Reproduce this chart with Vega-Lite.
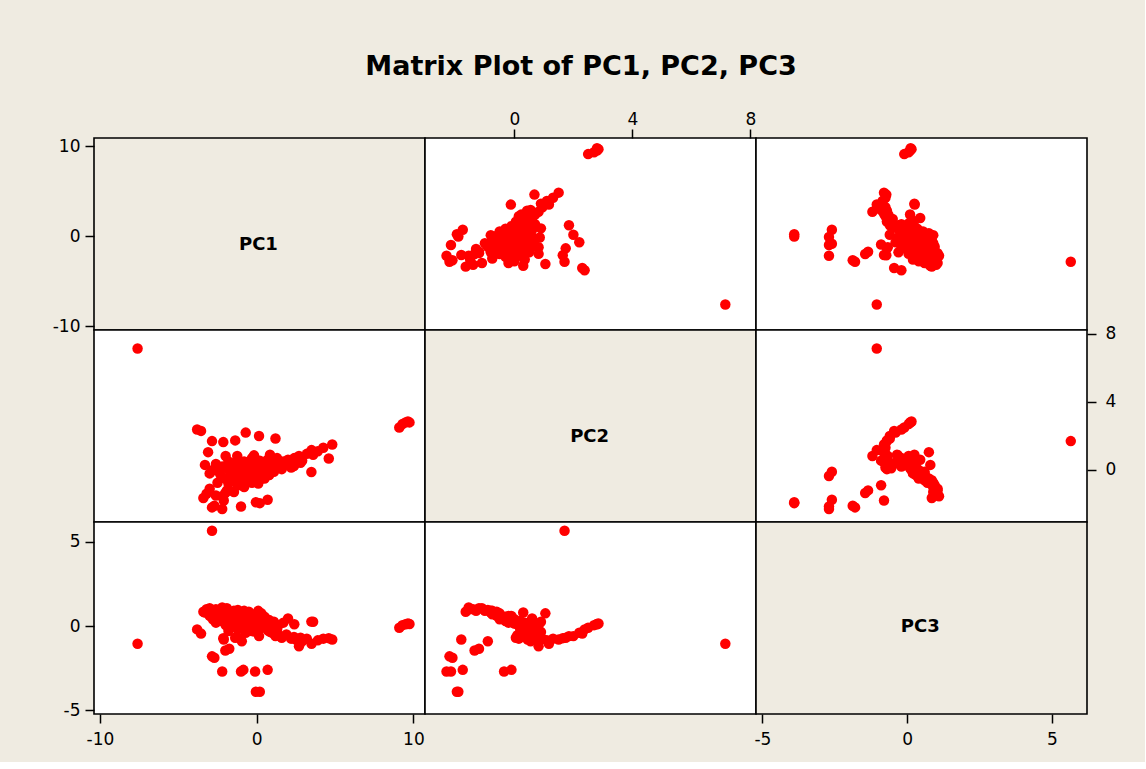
{
  "$schema": "https://vega.github.io/schema/vega-lite/v6.json",
  "background": "#EFEBE1",
  "padding": {"left": 51, "top": 53, "right": 28, "bottom": 14},
  "title": {"text": "Matrix Plot of PC1, PC2, PC3", "font": "DejaVu Sans", "fontSize": 27, "fontWeight": "bold", "color": "black", "anchor": "middle", "offset": 28, "dx": -3},
  "config": {
    "view": {"stroke": "black", "strokeWidth": 1.6},
    "axis": {"title": null, "grid": false, "domain": false, "tickColor": "black", "tickSize": 9, "tickWidth": 1.5, "labelColor": "black", "labelFont": "DejaVu Sans", "labelFontSize": 17, "labelPadding": 5, "labelExpr": "'' + datum.value"}
  },
  "datasets": {
    "pcs": [
      {"PC1": -7.6, "PC2": 7.15, "PC3": -1.05},
      {"PC1": -2.85, "PC2": 1.7, "PC3": 5.65},
      {"PC1": 9.1, "PC2": 2.5, "PC3": -0.1},
      {"PC1": 9.3, "PC2": 2.7, "PC3": 0.05},
      {"PC1": 9.5, "PC2": 2.8, "PC3": 0.1},
      {"PC1": 9.65, "PC2": 2.85, "PC3": 0.15},
      {"PC1": 9.75, "PC2": 2.8, "PC3": 0.12},
      {"PC1": -0.05, "PC2": -1.9, "PC3": -3.9},
      {"PC1": 0.2, "PC2": -1.95, "PC3": -3.9},
      {"PC1": -2.2, "PC2": -2.3, "PC3": -2.7},
      {"PC1": -1.0, "PC2": -2.15, "PC3": -2.7},
      {"PC1": -0.85, "PC2": -0.1, "PC3": -2.6},
      {"PC1": -0.1, "PC2": -0.35, "PC3": -2.7},
      {"PC1": 0.7, "PC2": -1.75, "PC3": -2.6},
      {"PC1": -2.85, "PC2": -2.2, "PC3": -1.8},
      {"PC1": -2.7, "PC2": -2.1, "PC3": -1.88},
      {"PC1": -2.0, "PC2": -1.35, "PC3": -1.45},
      {"PC1": -1.75, "PC2": -1.2, "PC3": -1.35},
      {"PC1": -2.1, "PC2": -1.8, "PC3": -0.8},
      {"PC1": -0.95, "PC2": -0.9, "PC3": -0.9},
      {"PC1": -3.8, "PC2": 2.38, "PC3": -0.2},
      {"PC1": -3.55, "PC2": 2.3, "PC3": -0.45},
      {"PC1": -0.7, "PC2": 2.2, "PC3": -0.4},
      {"PC1": 0.15, "PC2": 2.0, "PC3": -0.6},
      {"PC1": 1.2, "PC2": 1.85, "PC3": -0.6},
      {"PC1": -1.37, "PC2": 1.74, "PC3": -0.7},
      {"PC1": -2.13, "PC2": 1.64, "PC3": -0.72},
      {"PC1": 4.82, "PC2": 1.5, "PC3": -0.8},
      {"PC1": 4.25, "PC2": 1.31, "PC3": -0.75},
      {"PC1": 3.5, "PC2": 1.17, "PC3": -1.05},
      {"PC1": 4.6, "PC2": 0.68, "PC3": -0.72},
      {"PC1": 2.7, "PC2": 0.82, "PC3": -1.2},
      {"PC1": 2.8, "PC2": 0.43, "PC3": -0.7},
      {"PC1": 2.38, "PC2": 0.23, "PC3": -0.65},
      {"PC1": 1.53, "PC2": 0.33, "PC3": -0.6},
      {"PC1": 3.49, "PC2": -0.12, "PC3": 0.26},
      {"PC1": -3.1, "PC2": 1.05, "PC3": 0.75},
      {"PC1": -1.98, "PC2": 0.82, "PC3": 0.05},
      {"PC1": -1.24, "PC2": 0.82, "PC3": -0.67},
      {"PC1": -0.17, "PC2": 0.86, "PC3": -0.32},
      {"PC1": 0.85, "PC2": 0.9, "PC3": -0.35},
      {"PC1": -3.4, "PC2": -1.65, "PC3": 0.85},
      {"PC1": -3.2, "PC2": -1.4, "PC3": 1.0},
      {"PC1": -3.0, "PC2": -1.1, "PC3": 1.05},
      {"PC1": -2.6, "PC2": -1.5, "PC3": 1.0},
      {"PC1": -2.2, "PC2": -1.55, "PC3": 1.1},
      {"PC1": -1.9, "PC2": -1.2, "PC3": 1.05},
      {"PC1": -1.45, "PC2": -1.3, "PC3": 0.9},
      {"PC1": -1.2, "PC2": -0.9, "PC3": 0.95},
      {"PC1": -0.8, "PC2": -1.0, "PC3": 0.9},
      {"PC1": -0.5, "PC2": -0.6, "PC3": 0.85},
      {"PC1": 0.1, "PC2": -0.8, "PC3": 0.9},
      {"PC1": 0.3, "PC2": -0.5, "PC3": 0.75},
      {"PC1": -3.3, "PC2": 0.3, "PC3": 0.8},
      {"PC1": -3.0, "PC2": -0.2, "PC3": 0.6},
      {"PC1": -2.8, "PC2": 0.0, "PC3": 0.4},
      {"PC1": -2.6, "PC2": 0.35, "PC3": 0.2},
      {"PC1": -2.5, "PC2": -0.75, "PC3": 0.9},
      {"PC1": -2.3, "PC2": -0.3, "PC3": 0.5},
      {"PC1": -2.2, "PC2": 0.2, "PC3": 0.3},
      {"PC1": -2.0, "PC2": -0.5, "PC3": 0.7},
      {"PC1": -1.9, "PC2": 0.1, "PC3": 0.1},
      {"PC1": -1.8, "PC2": -0.8, "PC3": 0.8},
      {"PC1": -1.6, "PC2": -0.2, "PC3": 0.45},
      {"PC1": -1.5, "PC2": 0.4, "PC3": 0.0},
      {"PC1": -1.4, "PC2": -0.6, "PC3": 0.6},
      {"PC1": -1.3, "PC2": 0.0, "PC3": 0.3},
      {"PC1": -1.2, "PC2": 0.6, "PC3": -0.2},
      {"PC1": -1.1, "PC2": -0.4, "PC3": 0.5},
      {"PC1": -1.0, "PC2": 0.2, "PC3": 0.15},
      {"PC1": -0.9, "PC2": -0.7, "PC3": 0.75},
      {"PC1": -0.8, "PC2": 0.5, "PC3": -0.1},
      {"PC1": -0.7, "PC2": -0.1, "PC3": 0.35},
      {"PC1": -0.6, "PC2": 0.3, "PC3": 0.1},
      {"PC1": -0.5, "PC2": -0.45, "PC3": 0.55},
      {"PC1": -0.4, "PC2": 0.1, "PC3": 0.25},
      {"PC1": -0.3, "PC2": 0.7, "PC3": -0.3},
      {"PC1": -0.2, "PC2": -0.3, "PC3": 0.45},
      {"PC1": -0.1, "PC2": 0.4, "PC3": 0.0},
      {"PC1": 0.0, "PC2": -0.6, "PC3": 0.65},
      {"PC1": 0.1, "PC2": 0.15, "PC3": 0.2},
      {"PC1": 0.2, "PC2": 0.55, "PC3": -0.15},
      {"PC1": 0.3, "PC2": -0.2, "PC3": 0.4},
      {"PC1": 0.4, "PC2": 0.3, "PC3": 0.05},
      {"PC1": 0.5, "PC2": -0.5, "PC3": 0.55},
      {"PC1": 0.6, "PC2": 0.0, "PC3": 0.3},
      {"PC1": 0.7, "PC2": 0.6, "PC3": -0.25},
      {"PC1": 0.8, "PC2": -0.3, "PC3": 0.35},
      {"PC1": 0.9, "PC2": 0.2, "PC3": 0.1},
      {"PC1": 1.0, "PC2": 0.45, "PC3": -0.4},
      {"PC1": 1.1, "PC2": -0.1, "PC3": 0.25},
      {"PC1": 1.2, "PC2": 0.1, "PC3": -0.55},
      {"PC1": 1.3, "PC2": 0.7, "PC3": -0.2},
      {"PC1": 1.4, "PC2": 0.25, "PC3": 0.05},
      {"PC1": 1.6, "PC2": 0.05, "PC3": -0.7},
      {"PC1": 1.7, "PC2": 0.5, "PC3": 0.2},
      {"PC1": 1.9, "PC2": 0.35, "PC3": -0.5},
      {"PC1": 2.0, "PC2": 0.6, "PC3": 0.45},
      {"PC1": 2.2, "PC2": 0.15, "PC3": -0.75},
      {"PC1": 2.4, "PC2": 0.7, "PC3": 0.1},
      {"PC1": 2.5, "PC2": 0.45, "PC3": -0.8},
      {"PC1": 2.9, "PC2": 0.55, "PC3": -0.9},
      {"PC1": 3.2, "PC2": 0.95, "PC3": -0.75},
      {"PC1": 3.6, "PC2": 0.9, "PC3": 0.25},
      {"PC1": 3.9, "PC2": 1.1, "PC3": -0.85},
      {"PC1": -1.7, "PC2": -0.3, "PC3": 0.3},
      {"PC1": -1.5, "PC2": 0.05, "PC3": 0.15},
      {"PC1": -1.0, "PC2": -0.5, "PC3": 0.4},
      {"PC1": -0.9, "PC2": -0.2, "PC3": 0.2},
      {"PC1": -0.6, "PC2": -0.3, "PC3": 0.5},
      {"PC1": -0.4, "PC2": -0.1, "PC3": 0.3},
      {"PC1": -0.2, "PC2": 0.2, "PC3": 0.1},
      {"PC1": 0.0, "PC2": 0.0, "PC3": 0.35},
      {"PC1": 0.2, "PC2": -0.3, "PC3": 0.55},
      {"PC1": 0.4, "PC2": 0.1, "PC3": 0.2},
      {"PC1": 0.6, "PC2": 0.3, "PC3": -0.05},
      {"PC1": 0.8, "PC2": 0.0, "PC3": 0.15},
      {"PC1": 1.0, "PC2": 0.2, "PC3": -0.2},
      {"PC1": -1.3, "PC2": 0.3, "PC3": -0.1},
      {"PC1": -2.4, "PC2": -0.1, "PC3": 0.6},
      {"PC1": -0.3, "PC2": -0.75, "PC3": 0.7},
      {"PC1": 0.5, "PC2": -0.15, "PC3": 0.45},
      {"PC1": 1.2, "PC2": 0.4, "PC3": -0.3},
      {"PC1": -0.7, "PC2": 0.45, "PC3": -0.2},
      {"PC1": -1.8, "PC2": 0.5, "PC3": -0.3}
    ]
  },
  "columns": 3,
  "spacing": 0,
  "bounds": "flush",
  "concat": [
    {
      "width": 331, "height": 192,
      "view": {"fill": "#EFEBE1"},
      "layer": [
        {
          "data": {"name": "pcs"},
          "mark": {"type": "point", "opacity": 0},
          "encoding": {
            "x": {"field": "PC1", "type": "quantitative", "scale": {"domain": [-10.38, 10.74], "nice": false, "zero": false}, "axis": null},
            "y": {"field": "PC1", "type": "quantitative", "scale": {"domain": [-10.44, 10.89], "nice": false, "zero": false}, "axis": {"orient": "left", "values": [-10, 0, 10]}}
          }
        },
        {
          "data": {"values": [{"name": "PC1"}]},
          "mark": {"type": "text", "font": "DejaVu Sans", "fontWeight": "bold", "fontSize": 18, "color": "black", "align": "center", "baseline": "middle"},
          "encoding": {
            "x": {"datum": 0.11, "type": "quantitative"},
            "y": {"datum": -1.0, "type": "quantitative"},
            "text": {"field": "name"}
          }
        }
      ]
    },
    {
      "width": 331, "height": 192,
      "view": {"fill": "white"},
      "data": {"name": "pcs"},
      "mark": {"type": "point", "filled": true, "size": 110, "color": "#FF0000", "opacity": 1},
      "encoding": {
        "x": {"field": "PC2", "type": "quantitative", "scale": {"domain": [-3.03, 8.19], "nice": false, "zero": false}, "axis": {"orient": "top", "values": [0, 4, 8], "labelPadding": 1}},
        "y": {"field": "PC1", "type": "quantitative", "scale": {"domain": [-10.44, 10.89], "nice": false, "zero": false}, "axis": null}
      }
    },
    {
      "width": 331, "height": 192,
      "view": {"fill": "white"},
      "data": {"name": "pcs"},
      "mark": {"type": "point", "filled": true, "size": 110, "color": "#FF0000", "opacity": 1},
      "encoding": {
        "x": {"field": "PC3", "type": "quantitative", "scale": {"domain": [-5.22, 6.21], "nice": false, "zero": false}, "axis": null},
        "y": {"field": "PC1", "type": "quantitative", "scale": {"domain": [-10.44, 10.89], "nice": false, "zero": false}, "axis": null}
      }
    },
    {
      "width": 331, "height": 192,
      "view": {"fill": "white"},
      "data": {"name": "pcs"},
      "mark": {"type": "point", "filled": true, "size": 110, "color": "#FF0000", "opacity": 1},
      "encoding": {
        "x": {"field": "PC1", "type": "quantitative", "scale": {"domain": [-10.38, 10.74], "nice": false, "zero": false}, "axis": null},
        "y": {"field": "PC2", "type": "quantitative", "scale": {"domain": [-3.06, 8.235], "nice": false, "zero": false}, "axis": null}
      }
    },
    {
      "width": 331, "height": 192,
      "view": {"fill": "#EFEBE1"},
      "data": {"values": [{"name": "PC2"}]},
      "mark": {"type": "text", "font": "DejaVu Sans", "fontWeight": "bold", "fontSize": 18, "color": "black", "align": "center", "baseline": "middle"},
      "encoding": {
        "x": {"datum": 2.55, "type": "quantitative", "scale": {"domain": [-3.03, 8.19], "nice": false, "zero": false}, "axis": null},
        "y": {"datum": 1.95, "type": "quantitative", "scale": {"domain": [-3.06, 8.235], "nice": false, "zero": false}, "axis": null},
        "text": {"field": "name"}
      }
    },
    {
      "width": 331, "height": 192,
      "view": {"fill": "white"},
      "data": {"name": "pcs"},
      "mark": {"type": "point", "filled": true, "size": 110, "color": "#FF0000", "opacity": 1},
      "encoding": {
        "x": {"field": "PC3", "type": "quantitative", "scale": {"domain": [-5.22, 6.21], "nice": false, "zero": false}, "axis": null},
        "y": {"field": "PC2", "type": "quantitative", "scale": {"domain": [-3.06, 8.235], "nice": false, "zero": false}, "axis": {"orient": "right", "values": [0, 4, 8], "labelPadding": 9}}
      }
    },
    {
      "width": 331, "height": 192,
      "view": {"fill": "white"},
      "data": {"name": "pcs"},
      "mark": {"type": "point", "filled": true, "size": 110, "color": "#FF0000", "opacity": 1},
      "encoding": {
        "x": {"field": "PC1", "type": "quantitative", "scale": {"domain": [-10.38, 10.74], "nice": false, "zero": false}, "axis": {"orient": "bottom", "values": [-10, 0, 10], "labelPadding": 8}},
        "y": {"field": "PC3", "type": "quantitative", "scale": {"domain": [-5.22, 6.17], "nice": false, "zero": false}, "axis": {"orient": "left", "values": [-5, 0, 5]}}
      }
    },
    {
      "width": 331, "height": 192,
      "view": {"fill": "white"},
      "data": {"name": "pcs"},
      "mark": {"type": "point", "filled": true, "size": 110, "color": "#FF0000", "opacity": 1},
      "encoding": {
        "x": {"field": "PC2", "type": "quantitative", "scale": {"domain": [-3.03, 8.19], "nice": false, "zero": false}, "axis": null},
        "y": {"field": "PC3", "type": "quantitative", "scale": {"domain": [-5.22, 6.17], "nice": false, "zero": false}, "axis": null}
      }
    },
    {
      "width": 331, "height": 192,
      "view": {"fill": "#EFEBE1"},
      "layer": [
        {
          "data": {"name": "pcs"},
          "mark": {"type": "point", "opacity": 0},
          "encoding": {
            "x": {"field": "PC3", "type": "quantitative", "scale": {"domain": [-5.22, 6.21], "nice": false, "zero": false}, "axis": {"orient": "bottom", "values": [-5, 0, 5], "labelPadding": 8}},
            "y": {"field": "PC3", "type": "quantitative", "scale": {"domain": [-5.22, 6.17], "nice": false, "zero": false}, "axis": null}
          }
        },
        {
          "data": {"values": [{"name": "PC3"}]},
          "mark": {"type": "text", "font": "DejaVu Sans", "fontWeight": "bold", "fontSize": 18, "color": "black", "align": "center", "baseline": "middle"},
          "encoding": {
            "x": {"datum": 0.45, "type": "quantitative"},
            "y": {"datum": -0.05, "type": "quantitative"},
            "text": {"field": "name"}
          }
        }
      ]
    }
  ]
}
